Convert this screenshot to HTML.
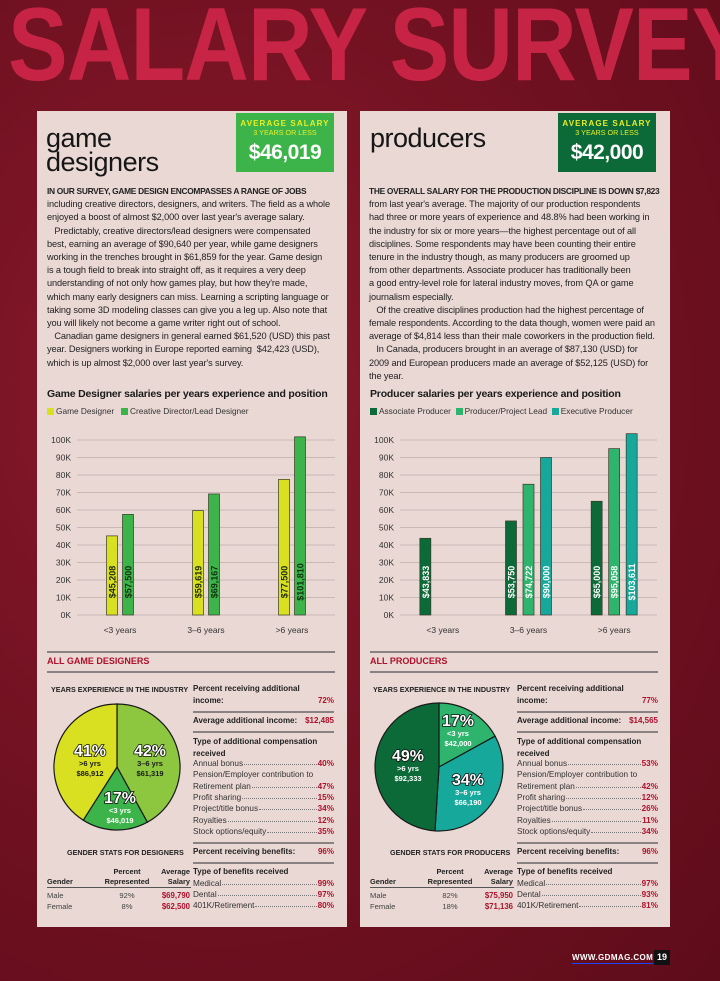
<!DOCTYPE html>
<html><head><meta charset="utf-8">
<style>
*{margin:0;padding:0;box-sizing:border-box}
body{width:720px;height:981px;overflow:hidden;background:#7a1424;font-family:"Liberation Sans",sans-serif;position:relative}
.abs{position:absolute}
#bg{position:absolute;left:0;top:0;width:720px;height:981px;background:radial-gradient(ellipse at 30% 40%,#8a1a2c 0%,#6e1020 60%,#5e0c1a 100%)}
#title{position:absolute;left:8px;top:-14px;font-size:104px;font-weight:bold;color:#d6284c;white-space:nowrap;transform:scaleX(0.86);transform-origin:left top;letter-spacing:-1px;opacity:.85}
.panel{position:absolute;top:111px;width:310px;height:816px;background:#e9d8d4}
.h1{position:absolute;font-size:27px;line-height:24px;color:#161616;letter-spacing:-0.5px}
.box{position:absolute;top:113px;width:98px;height:59px;text-align:center;white-space:nowrap}
.box .a{font-size:8px;font-weight:bold;color:#e6ee2a;letter-spacing:1.1px;margin-top:6px}
.box .b{font-size:7.2px;color:#e6ee2a;margin-top:0px}
.box .c{font-size:21px;font-weight:bold;color:#fff;margin-top:4px;letter-spacing:-0.5px}
.txt{position:absolute;font-size:9.2px;line-height:13.2px;color:#222;white-space:nowrap;letter-spacing:-0.1px}
.txt b{font-weight:bold;letter-spacing:-0.3px;font-size:8.4px}
.ct{position:absolute;font-size:10.5px;font-weight:bold;color:#1a1a1a;white-space:nowrap;letter-spacing:-0.2px}
.lg{position:absolute;font-size:8.3px;color:#333;white-space:nowrap}
.lg i{display:inline-block;width:7px;height:7px;margin-right:2px;vertical-align:-1px}
.sec{position:absolute;font-size:9px;font-weight:bold;color:#b0102a;white-space:nowrap}
.rule{position:absolute;height:2px;background:#8a8282}
.s{position:absolute;font-size:7.2px;color:#222;white-space:nowrap}
.sb{font-weight:bold}
.red{color:#b0102a;font-weight:bold}
</style></head>
<body>
<div id="bg"></div>
<div id="title">SALARY SURVEY</div>

<div class="panel" style="left:37px"></div>
<div class="panel" style="left:360px"></div>

<div class="h1" style="left:46px;top:126px">game<br>designers</div>
<div class="h1" style="left:370px;top:126px">producers</div>

<div class="box" style="left:236px;background:#3cb44a"><div class="a">AVERAGE SALARY</div><div class="b">3 YEARS OR LESS</div><div class="c">$46,019</div></div>
<div class="box" style="left:558px;background:#0c6a38"><div class="a">AVERAGE SALARY</div><div class="b">3 YEARS OR LESS</div><div class="c">$42,000</div></div>

<div class="txt" style="left:47px;top:185px">
<div><b>IN OUR SURVEY, GAME DESIGN ENCOMPASSES A RANGE OF JOBS</b></div>
<div>including creative directors, designers, and writers. The field as a whole</div>
<div>enjoyed a boost of almost $2,000 over last year's average salary.</div>
<div>&nbsp;&nbsp;&nbsp;Predictably, creative directors/lead designers were compensated</div>
<div>best, earning an average of $90,640 per year, while game designers</div>
<div>working in the trenches brought in $61,859 for the year. Game design</div>
<div>is a tough field to break into straight off, as it requires a very deep</div>
<div>understanding of not only how games play, but how they're made,</div>
<div>which many early designers can miss. Learning a scripting language or</div>
<div>taking some 3D modeling classes can give you a leg up. Also note that</div>
<div>you will likely not become a game writer right out of school.</div>
<div>&nbsp;&nbsp;&nbsp;Canadian game designers in general earned $61,520 (USD) this past</div>
<div>year. Designers working in Europe reported earning &nbsp;$42,423 (USD),</div>
<div>which is up almost $2,000 over last year's survey.</div>
</div>

<div class="txt" style="left:369px;top:185px">
<div><b>THE OVERALL SALARY FOR THE PRODUCTION DISCIPLINE IS DOWN $7,823</b></div>
<div>from last year's average. The majority of our production respondents</div>
<div>had three or more years of experience and 48.8% had been working in</div>
<div>the industry for six or more years—the highest percentage out of all</div>
<div>disciplines. Some respondents may have been counting their entire</div>
<div>tenure in the industry though, as many producers are groomed up</div>
<div>from other departments. Associate producer has traditionally been</div>
<div>a good entry-level role for lateral industry moves, from QA or game</div>
<div>journalism especially.</div>
<div>&nbsp;&nbsp;&nbsp;Of the creative disciplines production had the highest percentage of</div>
<div>female respondents. According to the data though, women were paid an</div>
<div>average of $4,814 less than their male coworkers in the production field.</div>
<div>&nbsp;&nbsp;&nbsp;In Canada, producers brought in an average of $87,130 (USD) for</div>
<div>2009 and European producers made an average of $52,125 (USD) for</div>
<div>the year.</div>
</div>

<div class="ct" style="left:47px;top:388px">Game Designer salaries per years experience and position</div>
<div class="lg" style="left:47px;top:406px"><span><i style="background:#d9e021"></i>Game Designer</span>&nbsp;&nbsp;&nbsp;<span><i style="background:#3cb44a"></i>Creative Director/Lead Designer</span></div>
<div class="ct" style="left:370px;top:388px">Producer salaries per years experience and position</div>
<div class="lg" style="left:370px;top:406px"><span><i style="background:#0c6a38"></i>Associate Producer</span>&nbsp;&nbsp;<span><i style="background:#2eb46c"></i>Producer/Project Lead</span>&nbsp;&nbsp;<span><i style="background:#17a89c"></i>Executive Producer</span></div>

<svg class="abs" style="left:0;top:0" width="720" height="981" id="charts"></svg>

<div class="rule" style="left:47px;top:651px;width:288px"></div>
<div class="sec" style="left:47px;top:656px">ALL GAME DESIGNERS</div>
<div class="rule" style="left:47px;top:671px;width:288px"></div>
<div class="rule" style="left:370px;top:651px;width:288px"></div>
<div class="sec" style="left:370px;top:656px">ALL PRODUCERS</div>
<div class="rule" style="left:370px;top:671px;width:288px"></div>

<div class="s sb" style="left:51px;top:685px">YEARS EXPERIENCE IN THE INDUSTRY</div>
<div class="s sb" style="left:373px;top:685px">YEARS EXPERIENCE IN THE INDUSTRY</div>

<div id="stats"></div>

<div class="abs" style="left:572px;top:953px;font-size:8px;font-weight:bold;color:#fff;letter-spacing:0.4px;border-bottom:1px solid #2040ff;padding-bottom:1px">WWW.GDMAG.COM</div>
<div class="abs" style="left:654px;top:950px;width:16px;height:15px;background:#111;color:#fff;font-size:9px;font-weight:bold;text-align:center;line-height:15px">19</div>

<script>
// ===== Chart data =====
const categories = ["<3 years","3–6 years",">6 years"];
const yTicks = [0,10000,20000,30000,40000,50000,60000,70000,80000,90000,100000];
const yTickLabels = ["0K","10K","20K","30K","40K","50K","60K","70K","80K","90K","100K"];
const gameDesigner = [45208,59619,77500];
const creativeDirector = [57500,69167,101810];
const gameDesignerLabels = ["$45,208","$59,619","$77,500"];
const creativeDirectorLabels = ["$57,500","$69,167","$101,810"];
const associateProducer = [43833,53750,65000];
const producerLead = [null,74722,95058];
const executiveProducer = [null,90000,103611];
const associateProducerLabels = ["$43,833","$53,750","$65,000"];
const producerLeadLabels = [null,"$74,722","$95,058"];
const executiveProducerLabels = [null,"$90,000","$103,611"];
// pies
const designerPieValues = [42,17,41];
const designerPieLabels = ["42%","17%","41%"];
const designerPieSub = ["3–6 yrs","<3 yrs",">6 yrs"];
const designerPieSalary = ["$61,319","$46,019","$86,912"];
const producerPieValues = [17,34,49];
const producerPieLabels = ["17%","34%","49%"];
const producerPieSub = ["<3 yrs","3–6 yrs",">6 yrs"];
const producerPieSalary = ["$42,000","$66,190","$92,333"];

const NS="http://www.w3.org/2000/svg";
const svg=document.getElementById('charts');
function mk(tag,attrs,parent){const e=document.createElementNS(NS,tag);for(const k in attrs)e.setAttribute(k,attrs[k]);(parent||svg).appendChild(e);return e;}

function barChart(x0,x1,series,colors,labels,textColors,name){
  const yBase=615, yTop=440, maxV=100000;
  const yScale=v=>yBase-(v/maxV)*(yBase-yTop);
  const band=(x1-x0)/categories.length;
  const xCenter=i=>x0+band*(i+0.5);
  const g=mk('g',{});
  
  
  yTicks.forEach((t,i)=>{
    const ln=mk('line',{x1:x0,x2:x1,y1:yScale(t),y2:yScale(t),stroke:'#c9b8b6','stroke-width':1},g);
    
    
    const tx=mk('text',{x:x0-6,y:yScale(t)+3,'text-anchor':'end','font-size':8.5,fill:'#333','font-family':'Liberation Sans, sans-serif'},g);
    tx.textContent=yTickLabels[i];
    
    
  });
  categories.forEach((c,i)=>{
    const tx=mk('text',{x:xCenter(i),y:633,'text-anchor':'middle','font-size':8.5,fill:'#333','font-family':'Liberation Sans, sans-serif'},g);
    tx.textContent=c;
    
    
  });
  const n=series.length, bw=11, step=n===2?16:17.5;
  series.forEach((s,si)=>{
    s.forEach((v,i)=>{
      if(v==null)return;
      const cx=xCenter(i)+(si-(n-1)/2)*step;
      const y=yScale(v);
      const r=mk('rect',{x:cx-bw/2,y:y,width:bw,height:yBase-y,fill:colors[si],stroke:'#3a3a2a','stroke-width':0.7},g);
      
      
      const ty=yBase-33;
      const t=mk('text',{x:cx+3.5,y:ty,'text-anchor':'middle','font-size':9,'font-weight':'bold',fill:textColors[si],transform:`rotate(-90 ${cx+3.5} ${ty})`,'font-family':'Liberation Sans, sans-serif'},g);
      t.textContent=labels[si][i];
      
      
    });
  });
}
barChart(77,335,[gameDesigner,creativeDirector],['#d9e021','#3cb44a'],[gameDesignerLabels,creativeDirectorLabels],['#1e2a10','#10300f'],'designers-bar-chart');
barChart(400,657,[associateProducer,producerLead,executiveProducer],['#0c6a38','#2eb46c','#17a89c'],[associateProducerLabels,producerLeadLabels,executiveProducerLabels],['#fff','#fff','#fff'],'producers-bar-chart');

function pie(cx,cy,r,vals,colors,labels,subs,sals,pos,name){
  const g=mk('g',{});
  
  
  const tot=vals.reduce((a,b)=>a+b,0);
  let a=0;
  vals.forEach((v,i)=>{
    const a0=a/tot*2*Math.PI, a1=(a+v)/tot*2*Math.PI; a+=v;
    const p0=[cx+r*Math.sin(a0),cy-r*Math.cos(a0)], p1=[cx+r*Math.sin(a1),cy-r*Math.cos(a1)];
    const large=(a1-a0)>Math.PI?1:0;
    const p=mk('path',{d:`M${cx},${cy}L${p0[0]},${p0[1]}A${r},${r} 0 ${large} 1 ${p1[0]},${p1[1]}Z`,fill:colors[i],stroke:'#1a1a1a','stroke-width':1.2},g);
    
    
  });
  vals.forEach((v,i)=>{
    const [x,y]=pos[i];
    const t=mk('text',{x:x,y:y,'text-anchor':'middle','font-size':16,'font-weight':'bold',fill:'#fff',stroke:'#111','stroke-width':1.6,'paint-order':'stroke','font-family':'Liberation Sans, sans-serif'},g);
    t.textContent=labels[i];
    
    
    const tc=colors[i]==='#d9e021'||colors[i]==='#8dc63f'?'#1a1a1a':'#fff';
    const s=mk('text',{x:x,y:y+10,'text-anchor':'middle','font-size':7.5,'font-weight':'bold',fill:tc,'font-family':'Liberation Sans, sans-serif'},g);
    s.textContent=subs[i];
    
    
    const s2=mk('text',{x:x,y:y+20,'text-anchor':'middle','font-size':7.5,'font-weight':'bold',fill:tc,'font-family':'Liberation Sans, sans-serif'},g);
    s2.textContent=sals[i];
    
    
  });
}
pie(117,767,63,designerPieValues,['#8dc63f','#3cb44a','#d9e021'],designerPieLabels,designerPieSub,designerPieSalary,[[150,756],[120,803],[90,756]],'designers-pie-chart');
pie(439,767,64,producerPieValues,['#2eb46c','#17a89c','#0c6a38'],producerPieLabels,producerPieSub,producerPieSalary,[[458,726],[468,785],[408,761]],'producers-pie-chart');

function stats(x0,d,gx,gtitle){
  const c=document.getElementById('stats');
  function add(html,style,name){const e=document.createElement('div');e.innerHTML=html;e.setAttribute('style',style);e.className='abs';
    
    
    c.appendChild(e);return e;}
  const W=141;
  add(`<span class="sb">Percent receiving additional</span>`,`left:${x0}px;top:684px;font-size:8px;color:#222;white-space:nowrap`,'additional-income-label');
  add(`<span class="sb">income:</span><span class="red" style="float:right">${d.pct}</span>`,`left:${x0}px;top:696px;width:${W}px;font-size:8px;color:#222`,'additional-income-row');
  add('',`left:${x0}px;top:711px;width:${W}px;height:2px;background:#8a8282`,'rule');
  add(`<span class="sb">Average additional income:</span><span class="red" style="float:right">${d.avg}</span>`,`left:${x0}px;top:716px;width:${W}px;font-size:8px;color:#222;white-space:nowrap`,'average-additional-income-row');
  add('',`left:${x0}px;top:731px;width:${W}px;height:2px;background:#8a8282`,'rule');
  add(`<span class="sb">Type of additional compensation<br>received</span>`,`left:${x0}px;top:736px;font-size:8px;line-height:11.5px;color:#222;white-space:nowrap`,'compensation-type-heading');
  const rows=[["Annual bonus",d.c[0],759],["Pension/Employer contribution to",null,770],["Retirement plan",d.c[1],782],["Profit sharing",d.c[2],793],["Project/title bonus",d.c[3],804],["Royalties",d.c[4],816],["Stock options/equity",d.c[5],827]];
  rows.forEach(r=>{
    add(r[1]?`<span>${r[0]}</span><span style="flex:1;border-bottom:1px dotted #777;margin:0 1px 3px"></span><span style="color:#b0102a;font-weight:bold">${r[1]}</span>`:`<span>${r[0]}</span>`,`left:${x0}px;top:${r[2]}px;width:${W}px;display:flex;font-size:8.2px;color:#333;white-space:nowrap`,'compensation-row');
  });
  add('',`left:${x0}px;top:842px;width:${W}px;height:2px;background:#8a8282`,'rule');
  add(`<span class="sb">Percent receiving benefits:</span><span class="red" style="float:right">96%</span>`,`left:${x0}px;top:847px;width:${W}px;font-size:8px;color:#222`,'benefits-percent-row');
  add('',`left:${x0}px;top:862px;width:${W}px;height:2px;background:#8a8282`,'rule');
  add(`<span class="sb">Type of benefits received</span>`,`left:${x0}px;top:867px;font-size:8px;color:#222`,'benefits-type-heading');
  [["Medical",d.b[0],879],["Dental",d.b[1],890],["401K/Retirement",d.b[2],901]].forEach(r=>{
    add(`<span>${r[0]}</span><span style="flex:1;border-bottom:1px dotted #777;margin:0 1px 3px"></span><span style="color:#b0102a;font-weight:bold">${r[1]}</span>`,`left:${x0}px;top:${r[2]}px;width:${W}px;display:flex;font-size:8.2px;color:#333;white-space:nowrap`,'benefit-row');
  });
  add(`<span class="sb">${gtitle}</span>`,`left:${gx+20}px;top:848px;font-size:7.2px;color:#222;white-space:nowrap`,'gender-stats-title');
  add(`<span class="sb">Percent<br>Represented</span>`,`left:${gx+45}px;top:867px;width:70px;text-align:center;font-size:7.4px;line-height:9.5px;color:#222`,'percent-represented-header');
  add(`<span class="sb">Average<br>Salary</span>`,`left:${gx+103}px;top:867px;width:40px;text-align:right;font-size:7.4px;line-height:9.5px;color:#222`,'average-salary-header');
  add(`<span class="sb">Gender</span>`,`left:${gx}px;top:877px;font-size:7.4px;color:#222`,'gender-header');
  add('',`left:${gx}px;top:887px;width:144px;height:1px;background:#555`,'rule');
  add(`Male`,`left:${gx}px;top:891px;font-size:7.6px;color:#444`,'male-label');
  add(d.g[0],`left:${gx+45}px;top:891px;width:70px;text-align:center;font-size:7.6px;color:#444`,'male-percent');
  add(`<span class="red">${d.g[1]}</span>`,`left:${gx+93}px;top:891px;width:50px;text-align:right;font-size:7.8px`,'male-salary');
  add(`Female`,`left:${gx}px;top:902px;font-size:7.6px;color:#444`,'female-label');
  add(d.g[2],`left:${gx+45}px;top:902px;width:70px;text-align:center;font-size:7.6px;color:#444`,'female-percent');
  add(`<span class="red">${d.g[3]}</span>`,`left:${gx+93}px;top:902px;width:50px;text-align:right;font-size:7.8px`,'female-salary');
}
stats(193,{pct:"72%",avg:"$12,485",c:["40%","47%","15%","34%","12%","35%"],b:["99%","97%","80%"],g:["92%","$69,790","8%","$62,500"]},47,"GENDER STATS FOR DESIGNERS");
stats(517,{pct:"77%",avg:"$14,565",c:["53%","42%","12%","26%","11%","34%"],b:["97%","93%","81%"],g:["82%","$75,950","18%","$71,136"]},370,"GENDER STATS FOR PRODUCERS");
</script>
</body></html>
